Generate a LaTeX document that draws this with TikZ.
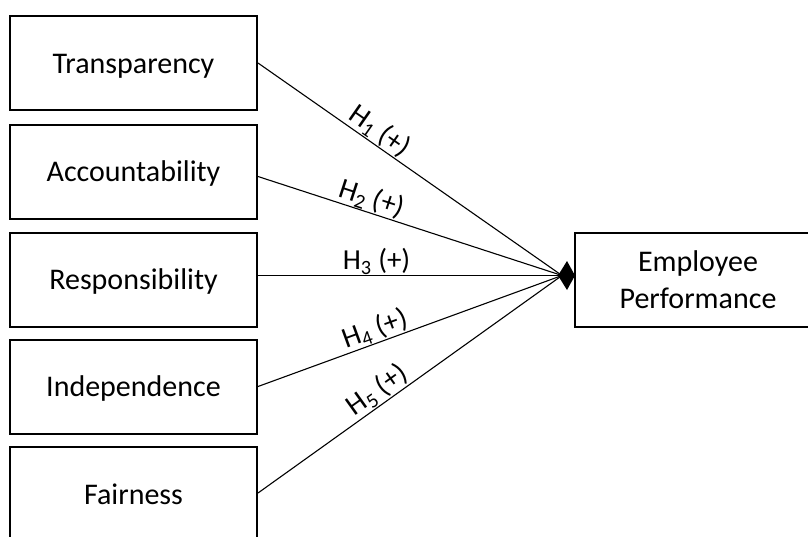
\documentclass[tikz,border=0pt]{standalone}
\usepackage{fontspec}
\setmainfont{Carlito}
\begin{document}
\begin{tikzpicture}[x=1pt,y=-1pt,
  box/.style={draw=black, line width=2pt, minimum width=247pt, minimum height=94pt, inner sep=0pt, font=\fontsize{30}{37}\selectfont},
  onebox/.style={box, text height=20pt, text depth=0pt},
  link/.style={line width=1.1pt},
  hyp/.style={above, sloped, inner sep=0.6pt, font=\fontsize{29}{34}\selectfont}]
\useasboundingbox (0,0) rectangle (808,536);
\clip (0,0) rectangle (808,536);
\node[onebox] (b1) at (133.5,63) {Transparency};
\node[onebox] (b2) at (133.5,171.5) {Accountability};
\node[onebox] (b3) at (133.5,279.5) {Responsibility};
\node[onebox] (b4) at (133.5,386.5) {Independence};
\node[onebox] (b5) at (133.5,494) {Fairness};
\node[box, minimum width=246pt, align=center] (ep) at (698,279.5) {Employee\\Performance};
\coordinate (c) at (562,275.5);
\draw[link] (b1.east) -- node[hyp, pos=0.375] {H\textsubscript{1} (+)} (c);
\draw[link] ([yshift=-5pt]b2.east) -- node[hyp, pos=0.36] {H\textsubscript{2} (+)} (c);
\draw[link] ([yshift=4pt]b3.east) -- node[hyp, pos=0.39] {H\textsubscript{3} (+)} (c);
\draw[link] (b4.east) -- node[hyp, pos=0.40] {H\textsubscript{4} (+)} (c);
\draw[link] ([yshift=1pt]b5.east) -- node[hyp, pos=0.42] {H\textsubscript{5} (+)} (c);
\fill ([xshift=-4pt]c) -- ([xshift=5pt,yshift=14.5pt]c) -- ([xshift=13pt]c) -- ([xshift=5pt,yshift=-14.5pt]c) -- cycle;
\end{tikzpicture}
\end{document}
